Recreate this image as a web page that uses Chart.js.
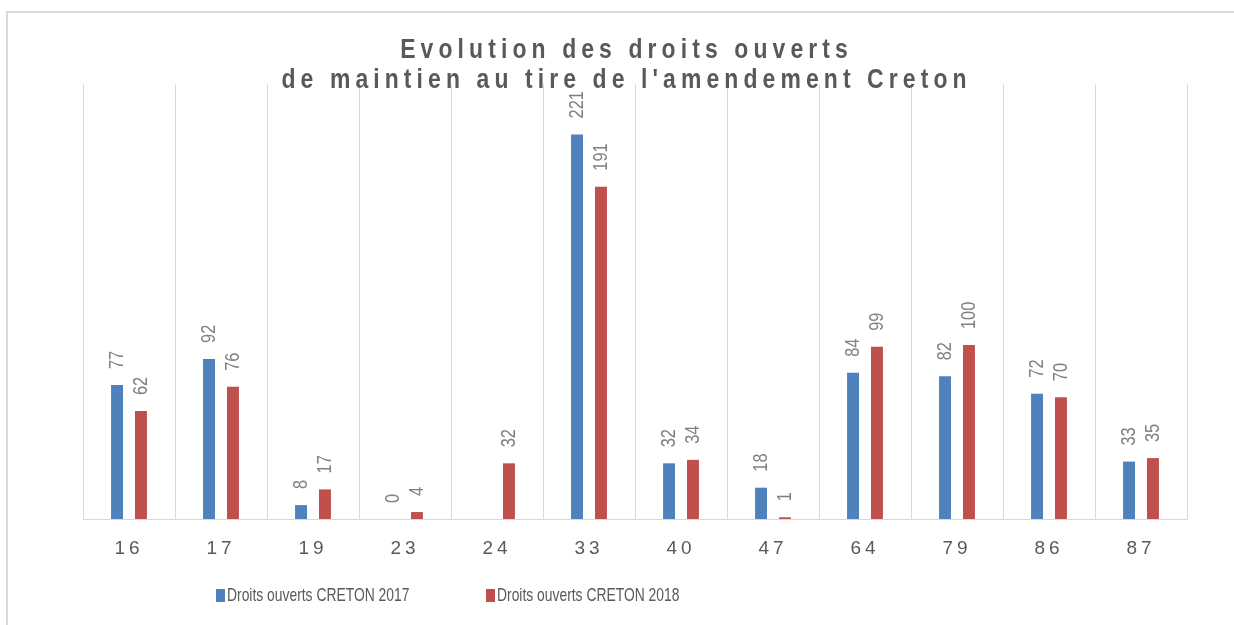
<!DOCTYPE html>
<html>
<head>
<meta charset="utf-8">
<script src="https://cdn.jsdelivr.net/npm/chart.js@4/dist/chart.umd.min.js"></script>
<style>
  html, body { margin: 0; padding: 0; background: #fff; }
  #wrap { width: 1234px; height: 625px; }
</style>
</head>
<body>
<div id="wrap"><canvas id="chart" width="1234" height="625"></canvas></div>
<script>
// Data
const departements = ['16', '17', '19', '23', '24', '33', '40', '47', '64', '79', '86', '87'];
const droits2017 = [77, 92, 8, 0, null, 221, 32, 18, 84, 82, 72, 33];
const droits2018 = [62, 76, 17, 4, 32, 191, 34, 1, 99, 100, 70, 35];
const seriesNames = ['Droits ouverts CRETON 2017', 'Droits ouverts CRETON 2018'];
const seriesColors = ['#4f81bd', '#c0504d'];
const titleLines = ['Evolution des droits ouverts', "de maintien au tire de l'amendement Creton"];
const yMax = 250;

// Draw condensed text (scale along the text direction)
function drawText(ctx, text, x, y, sx) {
  ctx.save();
  ctx.translate(x, y);
  ctx.scale(sx, 1);
  ctx.fillText(text, 0, 0);
  ctx.restore();
}

// Frame + letter spacing for axis ticks
const frame = {
  id: 'frame',
  beforeDraw(chart) {
    const ctx = chart.ctx;
    ctx.save();
    ctx.strokeStyle = '#d9d9d9';
    ctx.lineWidth = 2;
    ctx.strokeRect(7, 12, 1400, 800);
    ctx.restore();
    ctx.letterSpacing = '4px';
  },
  beforeDatasetsDraw(chart) {
    chart.ctx.letterSpacing = '0px';
  }
};

// Rotated value labels above each bar
const barLabels = {
  id: 'barLabels',
  afterDatasetsDraw(chart) {
    const ctx = chart.ctx;
    chart.data.datasets.forEach((ds, i) => {
      chart.getDatasetMeta(i).data.forEach((bar, j) => {
        const v = ds.data[j];
        if (v === null || v === undefined) return;
        ctx.save();
        ctx.translate(bar.x, bar.y - 16);
        ctx.rotate(-Math.PI / 2);
        ctx.font = '21px "Liberation Sans", Arial, sans-serif';
        ctx.fillStyle = '#808080';
        ctx.textAlign = 'left';
        ctx.textBaseline = 'middle';
        drawText(ctx, String(v), 0, 0, 0.78);
        ctx.restore();
      });
    });
  }
};

// Title and legend drawn in the look of the original
const titleLegend = {
  id: 'titleLegend',
  afterDraw(chart) {
    const ctx = chart.ctx;
    ctx.save();
    ctx.fillStyle = '#595959';
    ctx.textBaseline = 'alphabetic';
    ctx.textAlign = 'left';
    ctx.font = 'bold 27px "Liberation Sans", Arial, sans-serif';
    const ls = 6, sx = 0.85;
    ctx.letterSpacing = ls + 'px';
    const centers = [624, 624];
    const baselines = [58, 88];
    titleLines.forEach((line, i) => {
      const w = (ctx.measureText(line).width - ls) * sx;
      drawText(ctx, line, centers[i] - w / 2, baselines[i], sx);
    });
    ctx.letterSpacing = '0px';

    // legend
    const boxX = [216, 486];
    ctx.font = '19px "Liberation Sans", Arial, sans-serif';
    ctx.textBaseline = 'middle';
    chart.data.datasets.forEach((ds, i) => {
      ctx.fillStyle = ds.backgroundColor;
      ctx.fillRect(boxX[i], 589, 9, 13);
      ctx.fillStyle = '#595959';
      drawText(ctx, ds.label, boxX[i] + 11, 596, 0.73);
    });
    ctx.restore();
  }
};

new Chart(document.getElementById('chart'), {
  type: 'bar',
  data: {
    labels: departements,
    datasets: [
      { label: seriesNames[0], data: droits2017, backgroundColor: seriesColors[0] },
      { label: seriesNames[1], data: droits2018, backgroundColor: seriesColors[1] }
    ]
  },
  options: {
    responsive: false,
    animation: false,
    devicePixelRatio: 1,
    categoryPercentage: 0.52,
    barPercentage: 0.5,
    layout: { padding: { left: 83, right: 47, top: 84, bottom: 0 } },
    plugins: {
      legend: { display: false },
      title: { display: false },
      tooltip: { enabled: false }
    },
    scales: {
      x: {
        grid: { offset: true, color: '#d9d9d9', drawTicks: false, lineWidth: 1 },
        border: { color: '#d9d9d9', width: 1 },
        ticks: {
          color: '#595959',
          font: { family: '"Liberation Sans", Arial, sans-serif', size: 19 },
          padding: 18
        },
        afterFit(scale) { scale.height = 106; }
      },
      y: { display: false, min: 0, max: yMax }
    }
  },
  plugins: [frame, barLabels, titleLegend]
});
</script>
</body>
</html>
